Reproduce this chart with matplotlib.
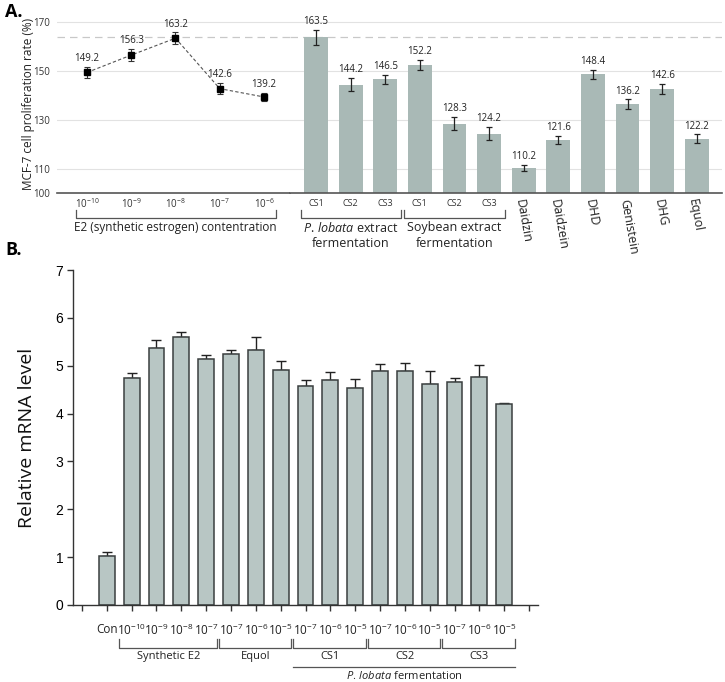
import numpy as np
import matplotlib.pyplot as plt

plt.rcParams['font.family'] = ['Open Sans', 'DejaVu Sans']
plt.rcParams['mathtext.fontset'] = 'custom'
plt.rcParams['mathtext.rm'] = 'Open Sans'
plt.rcParams['mathtext.it'] = 'Open Sans:italic'

# ---- panel A data
e2_conc = ['-10', '-9', '-8', '-7', '-6']
e2_rate = [149.2, 156.3, 163.2, 142.6, 139.2]
e2_err = [2.3, 2.6, 2.4, 2.2, 1.7]

ferm_names = ['CS1', 'CS2', 'CS3', 'CS1', 'CS2', 'CS3']
compound_names = ['Daidzin', 'Daidzein', 'DHD', 'Genistein', 'DHG', 'Equol']
bar_rate = [163.5, 144.2, 146.5, 152.2, 128.3, 124.2, 110.2, 121.6, 148.4, 136.2, 142.6, 122.2]
bar_err = [3.0, 2.7, 1.8, 2.0, 2.7, 2.7, 1.2, 1.6, 2.0, 2.0, 2.0, 1.7]
ref_line = 163.5

# ---- panel B data
b_labels = ['Con', '-10', '-9', '-8', '-7', '-7', '-6', '-5',
            '-7', '-6', '-5', '-7', '-6', '-5', '-7', '-6', '-5']
mrna = [1.02, 4.75, 5.36, 5.61, 5.15, 5.24, 5.32, 4.91, 4.57, 4.70, 4.54,
        4.90, 4.89, 4.61, 4.66, 4.76, 4.20]
mrna_err = [0.08, 0.10, 0.17, 0.10, 0.08, 0.08, 0.29, 0.19, 0.13, 0.16, 0.19,
            0.13, 0.17, 0.27, 0.08, 0.26, 0.03]
b_groups = [('Synthetic E2', 1, 4), ('Equol', 5, 7), ('CS1', 8, 10),
            ('CS2', 11, 13), ('CS3', 14, 16)]


def pow10(e):
    return r'$\mathregular{10^{' + e.replace('-', '\u2212') + '}}$'


def bracket(ax, x0, x1, ytop, ybot, color='#555555', lw=0.9):
    tr = ax.get_xaxis_transform()
    ax.plot([x0, x0, x1, x1], [ytop, ybot, ybot, ytop], color=color, lw=lw,
            transform=tr, clip_on=False)


fig = plt.figure(figsize=(7.25, 6.82), dpi=100)
W, H = 725, 682


def axes_px(l, t, r, b):
    return fig.add_axes([l / W, 1 - b / H, (r - l) / W, (b - t) / H])


bar_col = '#a9b9b6'
grid_col = '#e2e2e2'
plob = r'$\mathit{P.\,lobata}$'

# ---------------- panel A, line part
axL = axes_px(57, 15.4, 290, 193)
axR = axes_px(290, 15.4, 722, 193)
for ax in (axL, axR):
    ax.set_ylim(100, 172.5)
    ax.set_yticks([100, 110, 130, 150, 170])
    ax.grid(axis='y', color=grid_col, lw=0.8)
    ax.set_axisbelow(True)
    for s in ('top', 'right', 'left'):
        ax.spines[s].set_visible(False)
    ax.spines['bottom'].set_color('#555555')
    ax.spines['bottom'].set_linewidth(1.2)
    ax.tick_params(length=0)
    ax.axhline(ref_line, color='#c8c8c8', lw=0.9, ls=(0, (6, 4)), zorder=0.5)

xl = np.arange(len(e2_rate))
axL.errorbar(xl, e2_rate, yerr=e2_err, fmt='s', color='black', ms=4,
             ecolor='#333333', elinewidth=0.8, capsize=2, capthick=0.8, zorder=3)
axL.plot(xl, e2_rate, ls=(0, (3, 2)), color='#555555', lw=0.8, zorder=2)
for x, v, e in zip(xl, e2_rate, e2_err):
    axL.annotate(f'{v}', (x, v + e), xytext=(0, 2), textcoords='offset points',
                 ha='center', va='bottom', fontsize=7, color='#222222')
axL.set_xlim(-0.678, 4.588)
axL.set_xticks(xl)
axL.set_xticklabels([pow10(c) for c in e2_conc], fontsize=7, color='#333333')
axL.tick_params(axis='x', pad=3)
axL.tick_params(axis='y', labelsize=7, labelcolor='#333333', pad=5)
axL.set_ylabel('MCF-7 cell proliferation rate (%)', fontsize=8.5, color='#222222', labelpad=-1)
bracket(axL, -0.25, 4.27, -0.095, -0.138)
axL.text(2.0, -0.197, 'E2 (synthetic estrogen) contentration', transform=axL.get_xaxis_transform(),
         ha='center', va='center', fontsize=8.5, color='#222222')

# ---------------- panel A, bar part
xr = np.arange(len(bar_rate))
axR.bar(xr, bar_rate, width=0.69, color=bar_col, zorder=2)
axR.errorbar(xr, bar_rate, yerr=bar_err, fmt='none', ecolor='#222222',
             elinewidth=0.9, capsize=2.2, capthick=0.9, zorder=3)
for x, v, e in zip(xr, bar_rate, bar_err):
    axR.annotate(f'{v}', (x, v + e), xytext=(0, 2), textcoords='offset points',
                 ha='center', va='bottom', fontsize=7, color='#222222')
axR.set_xlim(-0.751, 11.73)
axR.set_yticklabels([])
axR.set_xticks(xr[:6])
axR.set_xticklabels(ferm_names, fontsize=6.5, color='#333333')
axR.tick_params(axis='x', pad=4)
tr = axR.get_xaxis_transform()
for i, name in enumerate(compound_names):
    axR.text(6 + i - 0.12, -0.035, name, transform=tr, rotation=-80,
             rotation_mode='anchor', ha='left', va='center', fontsize=9, color='#222222')
bracket(axR, -0.44, 2.45, -0.095, -0.138)
bracket(axR, 2.55, 5.47, -0.095, -0.138)
axR.text(1.0, -0.197, plob + ' extract', transform=tr, ha='center',
         va='center', fontsize=9, color='#222222')
axR.text(1.0, -0.287, 'fermentation', transform=tr, ha='center',
         va='center', fontsize=9, color='#222222')
axR.text(4.0, -0.197, 'Soybean extract', transform=tr, ha='center',
         va='center', fontsize=9, color='#222222')
axR.text(4.0, -0.287, 'fermentation', transform=tr, ha='center',
         va='center', fontsize=9, color='#222222')

# ---------------- panel B
axB = axes_px(73, 270, 538, 605)
xb = np.arange(1, len(mrna) + 1)
axB.bar(xb, mrna, width=0.64, color='#b8c6c4', edgecolor='#3a3f3f', lw=1.1, zorder=2)
axB.errorbar(xb, mrna, yerr=[np.zeros(len(mrna)), mrna_err], fmt='none',
             ecolor='#222222', elinewidth=1.0, capsize=3.6, capthick=1.0, zorder=1)
axB.set_xlim(-0.36, 18.36)
axB.set_ylim(0, 7)
axB.set_yticks(range(8))
axB.set_yticklabels([str(i) for i in range(8)], fontfamily='Liberation Sans', fontsize=10)
axB.set_xticks(range(19))
axB.set_xticklabels([''] + ['Con'] + [pow10(c) for c in b_labels[1:]] + [''],
                    fontsize=8.5, color='#222222')
axB.tick_params(axis='x', length=4, width=1, color='#333333', pad=9)
axB.tick_params(axis='y', length=4, width=1, color='#333333', pad=3)
for s in ('top', 'right'):
    axB.spines[s].set_visible(False)
for s in ('left', 'bottom'):
    axB.spines[s].set_color('#333333')
    axB.spines[s].set_linewidth(1.0)
axB.set_ylabel('Relative mRNA level', fontsize=14, labelpad=14, color='#111111')

trB = axB.get_xaxis_transform()
for name, i0, i1 in b_groups:
    bracket(axB, xb[i0] - 0.5, xb[i1] + 0.42, -0.1015, -0.1275)
    axB.text((xb[i0] + xb[i1]) / 2, -0.155, name, transform=trB, ha='center',
             va='center', fontsize=8, color='#222222')
axB.plot([xb[8] - 0.5, xb[16] + 0.42], [-0.185, -0.185], color='#555555', lw=0.9,
         transform=trB, clip_on=False)
axB.text((xb[8] + xb[16]) / 2, -0.212, plob + ' fermentation',
         transform=trB, ha='center', va='center', fontsize=8, color='#222222')

fig.text(5 / W, 1 - 12 / H, 'A.', fontsize=13, fontweight='bold', va='center')
fig.text(5 / W, 1 - 250 / H, 'B.', fontsize=13, fontweight='bold', va='center')

fig.savefig('out.png', dpi=100)
